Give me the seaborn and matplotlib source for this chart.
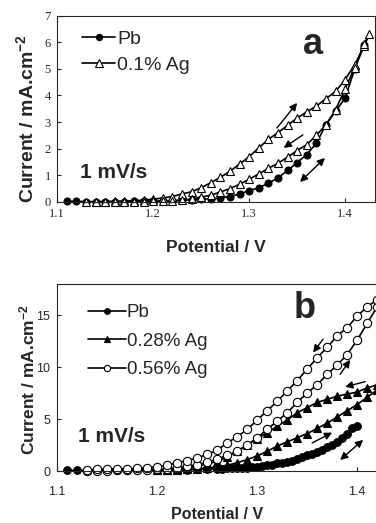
import numpy as np
import pandas as pd
import matplotlib
matplotlib.use("Agg")
import matplotlib.pyplot as plt
import seaborn as sns

# ---- panel a data (potential V, current mA/cm2) ----
a_pb_v = [1.11, 1.12, 1.13, 1.14, 1.15, 1.16, 1.17, 1.18, 1.19, 1.20,
          1.21, 1.22, 1.23, 1.24, 1.25, 1.26, 1.27, 1.28, 1.29, 1.30,
          1.31, 1.32, 1.33, 1.34, 1.35, 1.36, 1.37, 1.38, 1.39, 1.40, 1.41, 1.42]
a_pb_i = [0.02, 0.02, 0.01, 0.01, 0.01, 0.01, 0.01, 0.02, 0.02, 0.03,
          0.04, 0.05, 0.06, 0.08, 0.10, 0.12, 0.15, 0.20, 0.30, 0.42,
          0.53, 0.70, 0.90, 1.18, 1.48, 1.78, 2.20, 2.90, 3.40, 3.90, 5.00, 5.90]

a_ag_fwd_v = [1.13, 1.14, 1.15, 1.16, 1.17, 1.18, 1.19, 1.20, 1.21, 1.22,
              1.23, 1.24, 1.25, 1.26, 1.27, 1.28, 1.29, 1.30, 1.31, 1.32,
              1.33, 1.34, 1.35, 1.36, 1.37, 1.38, 1.39, 1.40, 1.41, 1.42, 1.425]
a_ag_fwd_i = [0.0, 0.0, 0.01, 0.02, 0.03, 0.04, 0.07, 0.10, 0.15, 0.20,
              0.30, 0.38, 0.53, 0.72, 0.92, 1.15, 1.42, 1.70, 2.03, 2.35,
              2.60, 2.88, 3.15, 3.38, 3.60, 3.88, 4.15, 4.60, 5.15, 5.85, 6.30]
a_ag_rev_v = [1.42, 1.41, 1.40, 1.39, 1.38, 1.37, 1.36, 1.35, 1.34, 1.33,
              1.32, 1.31, 1.30, 1.29, 1.28, 1.27, 1.26, 1.25, 1.24, 1.23,
              1.22, 1.21, 1.20, 1.19, 1.18, 1.17, 1.16, 1.15, 1.14]
a_ag_rev_i = [5.95, 5.05, 4.25, 3.46, 2.90, 2.50, 2.15, 1.93, 1.68, 1.45,
              1.26, 1.05, 0.85, 0.66, 0.50, 0.37, 0.25, 0.18, 0.11, 0.06,
              0.04, 0.03, 0.02, 0.01, 0.0, 0.0, 0.0, 0.0, 0.0]

# ---- panel b data ----
b_pb_fwd_v = [1.11, 1.12, 1.13, 1.14, 1.15, 1.16, 1.17, 1.18, 1.19, 1.20,
              1.21, 1.22, 1.23, 1.24, 1.25, 1.26, 1.27, 1.28, 1.29, 1.30,
              1.31, 1.32, 1.33, 1.34, 1.35, 1.36, 1.37, 1.38, 1.39, 1.40]
b_pb_fwd_i = [0.05, 0.05, 0.05, 0.05, 0.05, 0.05, 0.05, 0.05, 0.05, 0.05,
              0.08, 0.10, 0.12, 0.15, 0.18, 0.20, 0.25, 0.30, 0.33, 0.40,
              0.58, 0.75, 0.90, 1.20, 1.50, 1.85, 2.30, 2.80, 3.60, 4.30]
b_pb_rev_v = [1.395, 1.385, 1.375, 1.365, 1.355, 1.345, 1.335, 1.325,
              1.315, 1.305, 1.295, 1.285, 1.275, 1.265]
b_pb_rev_i = [4.10, 3.20, 2.50, 2.05, 1.65, 1.35, 1.00, 0.80,
              0.62, 0.45, 0.35, 0.32, 0.28, 0.22]

b_28_fwd_v = [1.20, 1.21, 1.22, 1.23, 1.24, 1.25, 1.26, 1.27, 1.28, 1.29,
              1.30, 1.31, 1.32, 1.33, 1.34, 1.35, 1.36, 1.37, 1.38, 1.39,
              1.40, 1.41, 1.42]
b_28_fwd_i = [0.05, 0.07, 0.10, 0.15, 0.20, 0.30, 0.40, 0.55, 0.80, 1.10,
              1.45, 1.90, 2.40, 2.80, 3.20, 3.60, 4.10, 4.60, 5.20, 5.80,
              6.40, 7.10, 7.80]
b_28_rev_v = [1.42, 1.41, 1.40, 1.39, 1.38, 1.37, 1.36, 1.35, 1.34, 1.33,
              1.32, 1.31, 1.30, 1.29, 1.28, 1.27, 1.26, 1.25, 1.24, 1.23,
              1.22, 1.21, 1.20]
b_28_rev_i = [8.30, 8.00, 7.60, 7.40, 7.20, 6.90, 6.60, 6.10, 5.60, 4.90,
              4.30, 3.70, 3.10, 2.50, 1.90, 1.35, 0.90, 0.70, 0.45, 0.30,
              0.20, 0.12, 0.08]

b_56_fwd_v = [1.13, 1.14, 1.15, 1.16, 1.17, 1.18, 1.19, 1.20, 1.21, 1.22,
              1.23, 1.24, 1.25, 1.26, 1.27, 1.28, 1.29, 1.30, 1.31, 1.32,
              1.33, 1.34, 1.35, 1.36, 1.37, 1.38, 1.39, 1.40, 1.41, 1.42]
b_56_fwd_i = [0.0, 0.02, 0.03, 0.05, 0.07, 0.10, 0.12, 0.15, 0.20, 0.30,
              0.45, 0.60, 0.85, 1.15, 1.50, 1.90, 2.50, 3.20, 4.00, 4.80,
              5.60, 6.60, 7.50, 8.30, 9.30, 10.2, 11.2, 12.6, 14.2, 15.8]
b_56_rev_v = [1.42, 1.41, 1.40, 1.39, 1.38, 1.37, 1.36, 1.35, 1.34, 1.33,
              1.32, 1.31, 1.30, 1.29, 1.28, 1.27, 1.26, 1.25, 1.24, 1.23,
              1.22, 1.21, 1.20, 1.19, 1.18, 1.17, 1.16, 1.15, 1.14, 1.13]
b_56_rev_i = [16.5, 15.8, 14.9, 13.8, 13.0, 11.9, 10.9, 9.8, 8.7, 7.7,
              6.7, 5.8, 4.9, 4.0, 3.3, 2.7, 2.0, 1.6, 1.25, 1.0,
              0.8, 0.55, 0.40, 0.30, 0.25, 0.20, 0.20, 0.20, 0.15, 0.10]

sns.set_style("ticks")
plt.rcParams["font.family"] = ["Liberation Sans", "DejaVu Sans"]
plt.rcParams["mathtext.fontset"] = "custom"
plt.rcParams["mathtext.rm"] = "Liberation Sans:bold"
plt.rcParams["mathtext.default"] = "rm"


def draw_loop(ax, v, i, label, marker, mfc, ms):
    df = pd.DataFrame({"V": v, "I": i})
    sns.lineplot(data=df, x="V", y="I", sort=False, estimator=None, ax=ax,
                 color="black", lw=1.2, marker=marker, markersize=ms,
                 markerfacecolor=mfc, markeredgecolor="black",
                 markeredgewidth=0.8, label=label, clip_on=False)


def arrow(ax, tail, head, both=False):
    style = "<|-|>" if both else "-|>"
    ax.annotate("", xy=head, xytext=tail,
                arrowprops=dict(arrowstyle=style, color="black", lw=1.0,
                                mutation_scale=11, shrinkA=0, shrinkB=0))


fig = plt.figure(figsize=(3.76, 5.23), dpi=100)

# ---------------- panel a ----------------
ax1 = fig.add_axes([0.152, 0.614, 0.845, 0.356])
draw_loop(ax1, a_pb_v, a_pb_i, "Pb", "o", "black", 5)
draw_loop(ax1, a_ag_fwd_v + a_ag_rev_v, a_ag_fwd_i + a_ag_rev_i, "0.1% Ag", "^", "white", 6)
ax1.set_xlim(1.1, 1.431)
ax1.set_ylim(0, 7)
ax1.set_xticks([1.1, 1.2, 1.3, 1.4])
ax1.set_yticks(range(8))
for lab in ax1.get_xticklabels() + ax1.get_yticklabels():
    lab.set_fontfamily("Liberation Serif")
    lab.set_fontsize(9)
ax1.tick_params(direction="in", length=3, width=0.8, pad=4.5)
ax1.set_xlabel("Potential / V", fontsize=12.5, fontweight="bold", labelpad=14)
ax1.set_ylabel("Current / mA.cm$^{-2}$", fontsize=14, fontweight="bold")
ax1.yaxis.set_label_coords(-0.063, 0.45)
ax1.legend(loc="upper left", bbox_to_anchor=(0.079, 0.923), frameon=False,
           fontsize=14, handlelength=1.7, handletextpad=0.1, labelspacing=0.45,
           borderaxespad=0, borderpad=0, markerscale=0.9)
ax1.text(0.805, 0.845, "a", transform=ax1.transAxes, fontsize=26,
         fontweight="bold", ha="center", va="center")
ax1.text(0.072, 0.16, "1 mV/s", transform=ax1.transAxes, fontsize=15,
         fontweight="bold", ha="left", va="center")
arrow(ax1, (1.329, 2.78), (1.350, 3.72))
arrow(ax1, (1.356, 2.52), (1.336, 2.03))
arrow(ax1, (1.353, 0.75), (1.379, 1.65), both=True)

# ---------------- panel b ----------------
ax2 = fig.add_axes([0.152, 0.0994, 0.851, 0.3576])
draw_loop(ax2, b_pb_fwd_v + b_pb_rev_v, b_pb_fwd_i + b_pb_rev_i, "Pb", "o", "black", 5.5)
draw_loop(ax2, b_28_fwd_v + b_28_rev_v, b_28_fwd_i + b_28_rev_i, "0.28% Ag", "^", "black", 5.5)
draw_loop(ax2, b_56_fwd_v + b_56_rev_v, b_56_fwd_i + b_56_rev_i, "0.56% Ag", "o", "white", 6)
ax2.set_xlim(1.1, 1.42)
ax2.set_ylim(0, 18)
ax2.set_xticks([1.1, 1.2, 1.3, 1.4])
ax2.set_yticks([0, 5, 10, 15])
ax2.spines["right"].set_visible(False)
ax2.tick_params(direction="in", length=3, width=0.8, labelsize=9)
ax2.tick_params(axis="x", pad=11)
ax2.tick_params(axis="y", pad=5)
ax2.set_xlabel("Potential / V", fontsize=11.5, fontweight="bold", labelpad=6)
ax2.set_ylabel("Current / mA.cm$^{-2}$", fontsize=12.5, fontweight="bold")
ax2.yaxis.set_label_coords(-0.0625, 0.49)
ax2.legend(loc="upper left", bbox_to_anchor=(0.097, 0.893), frameon=False,
           fontsize=13.5, handlelength=2.0, handletextpad=0.05, labelspacing=0.61,
           borderaxespad=0, borderpad=0, markerscale=0.75)
ax2.text(0.775, 0.87, "b", transform=ax2.transAxes, fontsize=26,
         fontweight="bold", ha="center", va="center")
ax2.text(0.066, 0.187, "1 mV/s", transform=ax2.transAxes, fontsize=15,
         fontweight="bold", ha="left", va="center")
arrow(ax2, (1.366, 12.7), (1.356, 11.4))
arrow(ax2, (1.383, 9.3), (1.393, 10.7))
arrow(ax2, (1.408, 8.6), (1.388, 8.1))
arrow(ax2, (1.355, 2.7), (1.375, 3.7))
arrow(ax2, (1.383, 1.06), (1.406, 3.0), both=True)

fig.savefig("out.png", dpi=100)
